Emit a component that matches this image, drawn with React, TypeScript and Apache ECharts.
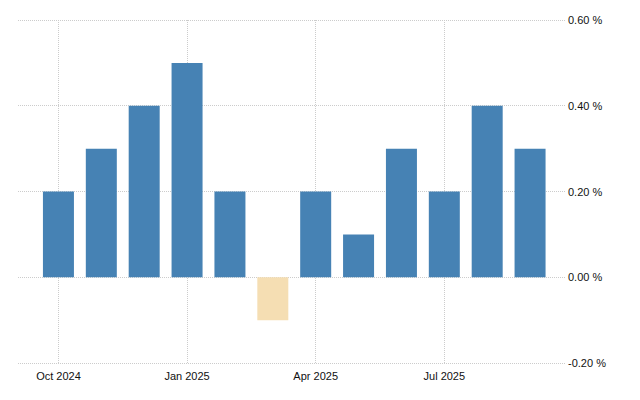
import React, { useEffect, useRef } from "react";
import * as echarts from "echarts";

const months = [
  "Oct 2024", "Nov 2024", "Dec 2024", "Jan 2025", "Feb 2025", "Mar 2025",
  "Apr 2025", "May 2025", "Jun 2025", "Jul 2025", "Aug 2025", "Sep 2025",
];
const values = [0.2, 0.3, 0.4, 0.5, 0.2, -0.1, 0.2, 0.1, 0.3, 0.2, 0.4, 0.3];
const labelledMonths = ["Oct 2024", "Jan 2025", "Apr 2025", "Jul 2025"];
const yTicks = { min: -0.2, max: 0.6, interval: 0.2 };

const POS = "#4682B4";
const NEG = "#F5DEB3";
const GRID = "#cccccc";
const FONT = "'Liberation Sans', Arial, sans-serif";

export default function App() {
  const ref = useRef<HTMLDivElement>(null);
  useEffect(() => {
    if (!ref.current) return;
    const chart = echarts.init(ref.current, undefined, { renderer: "svg" });
    chart.setOption({
      animation: false,
      grid: [
        { left: 18, right: 75, top: 20, bottom: 37 },
        { left: 37, right: 88.5, top: 20, bottom: 37 },
      ],
      xAxis: [
        { gridIndex: 0, type: "value", min: 0, max: 1, show: false },
        {
          gridIndex: 1,
          type: "category",
          data: months,
          boundaryGap: true,
          axisLine: { show: false },
          axisTick: { show: false },
          splitLine: { show: false },
          axisLabel: {
            interval: 0,
            margin: 7,
            color: "#111",
            fontFamily: FONT,
            fontSize: 11,
            formatter: (v: string) => (labelledMonths.includes(v) ? v : ""),
          },
        },
      ],
      yAxis: [
        {
          gridIndex: 0,
          type: "value",
          position: "right",
          min: yTicks.min,
          max: yTicks.max,
          interval: yTicks.interval,
          axisLine: { show: false },
          axisTick: { show: false },
          splitLine: { show: true, lineStyle: { color: GRID, type: "dotted", width: 1 } },
          axisLabel: {
            margin: 3,
            color: "#111",
            fontFamily: FONT,
            fontSize: 11,
            formatter: (v: number) => v.toFixed(2) + " %",
          },
        },
        {
          gridIndex: 1,
          type: "value",
          min: yTicks.min,
          max: yTicks.max,
          interval: yTicks.interval,
          show: false,
          splitLine: { show: false },
        },
      ],
      series: [
        {
          type: "bar",
          xAxisIndex: 1,
          yAxisIndex: 1,
          barWidth: 31,
          data: values.map((v) => ({
            value: v,
            itemStyle: { color: v < 0 ? NEG : POS },
          })),
          markLine: {
            silent: true,
            symbol: "none",
            label: { show: false },
            lineStyle: { color: GRID, type: "dotted", width: 1 },
            data: labelledMonths.map((m) => ({ xAxis: m })),
            z: -1,
          },
          z: 2,
        },
      ],
    });
    return () => chart.dispose();
  }, []);
  return <div ref={ref} style={{ width: 640, height: 400, position: "absolute", left: 0, top: 0 }} />;
}
